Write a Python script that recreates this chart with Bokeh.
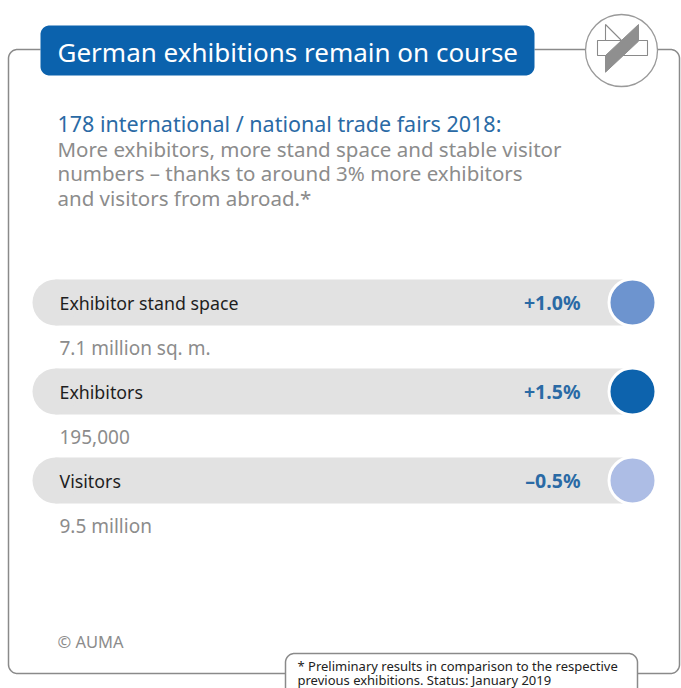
import numpy as np
from bokeh.plotting import figure
from bokeh.models import Range1d, ColumnDataSource
from bokeh.embed import file_html
from bokeh.resources import INLINE
from bokeh.core.properties import value

# ---------------- data ----------------
title = "German exhibitions remain on course"
subtitle_head = "178 international / national trade fairs 2018:"
subtitle_lines = [
    "More exhibitors, more stand space and stable visitor",
    "numbers \u2013 thanks to around 3% more exhibitors",
    "and visitors from abroad.*",
]
categories = ["Exhibitor stand space", "Exhibitors", "Visitors"]
changes = [1.0, 1.5, -0.5]
totals = ["7.1 million sq. m.", "195,000", "9.5 million"]
dot_colors = ["#6d94cf", "#0d63ad", "#adbde5"]
source_note = "\u00a9 AUMA"
footnote_lines = [
    "* Preliminary results in comparison to the respective",
    "  previous exhibitions. Status: January 2019",
]

# ---------------- styles ----------------
FONT = "Noto Sans"
BLUE = "#0b62ad"
TEXT_BLUE = "#2a6aa5"
GREY_TXT = "#8c8c8c"
BORDER = "#8a8a8a"
BAR_FILL = "#e2e2e2"

W, H = 681, 688
p = figure(width=W, height=H, x_range=Range1d(0, W), y_range=Range1d(H, 0),
           output_backend="svg", toolbar_location=None,
           x_axis_location=None, y_axis_location=None, min_border=0)
p.grid.visible = False
p.outline_line_color = None
p.background_fill_color = "white"
p.border_fill_color = "white"


def arc(cx, cy, r, a0, a1, n=16):
    t = np.linspace(np.radians(a0), np.radians(a1), n)
    return list(cx + r * np.cos(t)), list(cy + r * np.sin(t))


def rounded_rect(x0, y0, x1, y1, r):
    xs, ys = [], []
    for cx, cy, a0, a1 in [(x1 - r, y0 + r, -90, 0), (x1 - r, y1 - r, 0, 90),
                           (x0 + r, y1 - r, 90, 180), (x0 + r, y0 + r, 180, 270)]:
        ax, ay = arc(cx, cy, r, a0, a1)
        xs += ax
        ys += ay
    return xs, ys


# ---------------- frame ----------------
LX, RX, TY, BY, R = 8, 679, 49, 673, 9
ax1, ay1 = arc(LX + R, TY + R, R, 270, 180)
ax2, ay2 = arc(LX + R, BY - R, R, 180, 90)
p.line([40] + ax1 + ax2 + [285], [TY] + ay1 + ay2 + [BY], line_color=BORDER, line_width=1.5)
ax3, ay3 = arc(RX - R, TY + R, R, 270, 360)
ax4, ay4 = arc(RX - R, BY - R, R, 0, 90)
p.line([657] + ax3 + ax4 + [637], [TY] + ay3 + ay4 + [BY], line_color=BORDER, line_width=1.5)
p.line([534, 585], [TY, TY], line_color=BORDER, line_width=1.5)

# footnote box
fx0, fx1, fy0, fr = 285, 637, 653, 9
bx1, by1 = arc(fx0 + fr, fy0 + fr, fr, 180, 270)
bx2, by2 = arc(fx1 - fr, fy0 + fr, fr, 270, 360)
p.line([fx0] + bx1 + bx2 + [fx1], [H + 2] + by1 + by2 + [H + 2], line_color=BORDER, line_width=1.5)

# title box
tx, ty = rounded_rect(40, 25, 534, 75, 9)
p.patch(tx, ty, fill_color=BLUE, line_color=None)
p.text(x=[57], y=[51], text=[title], text_font=value(FONT), text_font_size="26px",
       text_color="white", text_baseline="middle", text_align="left")

# logo
p.scatter(x=[621], y=[50], size=72, marker="circle", fill_color="white",
          line_color="#9a9a9a", line_width=1.3)
p.patch([597, 647, 647, 597], [40, 40, 55, 55], fill_color="white", line_color="#8a8a8a", line_width=1.1)
p.patch([605, 605, 621], [24, 40, 40], fill_color="white", line_color="#8a8a8a", line_width=1.1)
p.patch([638, 638, 605, 605], [24, 40.7, 71.7, 55], fill_color="#8f8f8f", line_color="#8f8f8f", line_width=1)

# subtitle
p.text(x=[57], y=[123], text=[subtitle_head], text_font=value(FONT), text_font_size="21.5px",
       text_color=TEXT_BLUE, text_baseline="middle")
p.text(x=[57] * len(subtitle_lines), y=[148 + 24.5 * i for i in range(len(subtitle_lines))],
       text=subtitle_lines, text_font=value(FONT), text_font_size="20.5px",
       text_color=GREY_TXT, text_baseline="middle")

# ---------------- rows ----------------
n = len(categories)
ys = [302 + 89 * i for i in range(n)]
labels = [("+" if v > 0 else "\u2013") + f"{abs(v):.1f}%" for v in changes]
src = ColumnDataSource(dict(
    y=ys, cat=categories, lab=labels, tot=totals, col=dot_colors,
    ysub=[y + 45 for y in ys],
    xl=[55] * n, xr=[632] * n, xm=[343.5] * n,
))
p.rect(x="xm", y="y", width=577, height=46, source=src, fill_color=BAR_FILL, line_color=None)
p.scatter(x="xl", y="y", size=46, source=src, marker="circle", fill_color=BAR_FILL, line_color=None)
p.scatter(x="xr", y="y", size=47, source=src, marker="circle", fill_color="col",
          line_color="white", line_width=3)
p.text(x=59, y="y", text="cat", source=src, text_font=value(FONT), text_font_size="17.8px",
       text_color="#1e1e1e", text_baseline="middle")
p.text(x=580, y="y", text="lab", source=src, text_font=value(FONT), text_font_size="19.5px",
       text_font_style="bold", text_color=TEXT_BLUE, text_baseline="middle", text_align="right")
p.text(x=59, y="ysub", text="tot", source=src, text_font=value(FONT), text_font_size="19px",
       text_color=GREY_TXT, text_baseline="middle")

# ---------------- notes ----------------
p.text(x=[57], y=[641], text=[source_note], text_font=value(FONT), text_font_size="16.5px",
       text_color=GREY_TXT, text_baseline="middle")
p.text(x=[297, 297], y=[665, 679], text=footnote_lines, text_font=value(FONT),
       text_font_size="13px", text_color="#222222", text_baseline="middle")

open("out.html", "w").write(file_html(p, INLINE))
